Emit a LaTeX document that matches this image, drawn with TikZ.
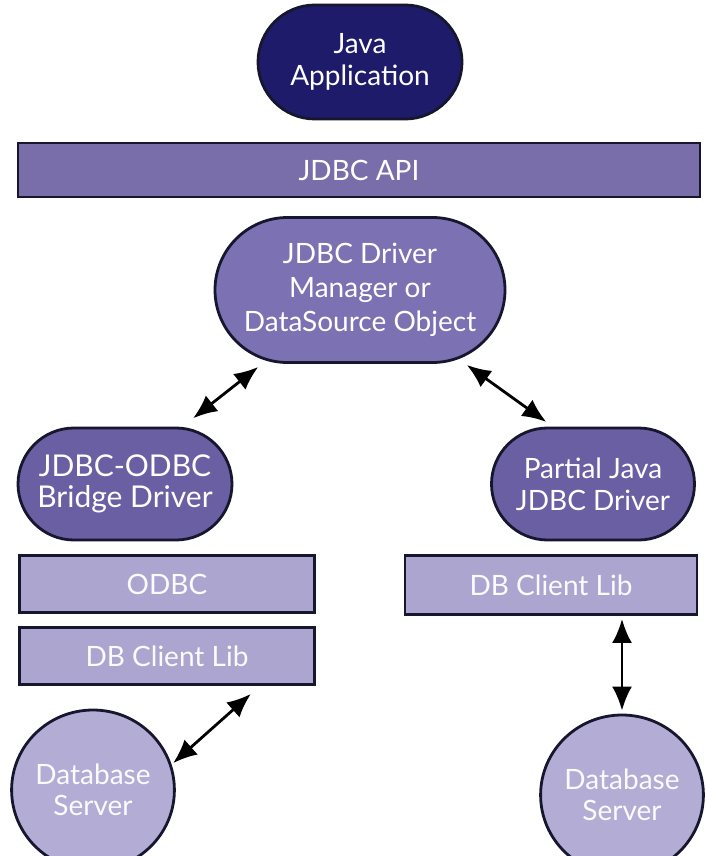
\documentclass[tikz,border=0pt]{standalone}
\usepackage{fontspec}
\setmainfont{Lato}
\usetikzlibrary{shapes.misc,shapes.geometric,arrows.meta}
\definecolor{navy}{HTML}{1F1B6B}
\definecolor{apibar}{HTML}{7A6EAA}
\definecolor{dmfill}{HTML}{7B71B3}
\definecolor{drvfill}{HTML}{6B5FA3}
\definecolor{lightbar}{HTML}{ACA5D0}
\definecolor{srvfill}{HTML}{B3ADD6}
\definecolor{edge}{HTML}{16162E}
\tikzset{
  base/.style={draw=edge, line width=2.8pt, text=white, align=center, inner sep=0pt,
    font=\fontsize{28}{32}\selectfont},
  pill/.style={base, rounded rectangle},
  bar/.style={base, rectangle},
  srv/.style={base, ellipse, fill=srvfill, text=white!95!lightbar, font=\fontsize{28}{31}\selectfont},
  darr/.style={line width=2.8pt, black, {Latex[length=24pt,width=20pt]}-{Latex[length=24pt,width=20pt]}}
}
\begin{document}
\begin{tikzpicture}[x=1pt,y=-1pt]
\useasboundingbox[fill=white] (0,0) rectangle (706,856);

\node[pill, fill=navy, minimum width=204pt, minimum height=114pt] (app) at (360,62) {Java\\Application};
\node[bar, fill=apibar, minimum width=682pt, minimum height=54pt] (api) at (359,170) {JDBC API};
\node[pill, fill=dmfill, minimum width=290pt, minimum height=145pt, font=\fontsize{28}{34}\selectfont] (dm) at (360,290) {JDBC Driver\\Manager or\\DataSource Object};

\node[pill, fill=drvfill, minimum width=214pt, minimum height=112pt, font=\fontsize{30}{31}\selectfont] (bridge) at (125,484) {JDBC-ODBC\\Bridge Driver};
\node[pill, fill=drvfill, minimum width=203pt, minimum height=112pt] (partial) at (593,484) {Partial Java\\JDBC Driver};

\node[bar, fill=lightbar, text=white!95!lightbar, minimum width=295pt, minimum height=57pt] (odbc) at (167,584) {ODBC};
\node[bar, fill=lightbar, text=white!95!lightbar, minimum width=295pt, minimum height=57pt] (dbl) at (167,656) {DB Client Lib};
\node[bar, fill=lightbar, text=white!95!lightbar, minimum width=292pt, minimum height=59pt] (dbr) at (551,585) {DB Client Lib};

\node[srv, minimum width=152pt, minimum height=160pt] (srvl) at (93,790) {Database\\Server};
\node[srv, minimum width=140pt, minimum height=160pt] (srvr) at (622,795) {Database\\Server};

\draw[darr, shorten <=10pt, shorten >=14pt] (dm.217) -- (bridge.45);
\draw[darr, shorten <=10pt, shorten >=8pt] (dm.325) -- (partial.125);
\draw[darr, shorten <=3pt, shorten >=3pt] (srvr.north |- dbr.south) -- (srvr.north);
\draw[darr, shorten >=2pt] ([xshift=-65pt,yshift=-8pt]dbl.south east) -- (srvl.18);
\end{tikzpicture}
\end{document}
